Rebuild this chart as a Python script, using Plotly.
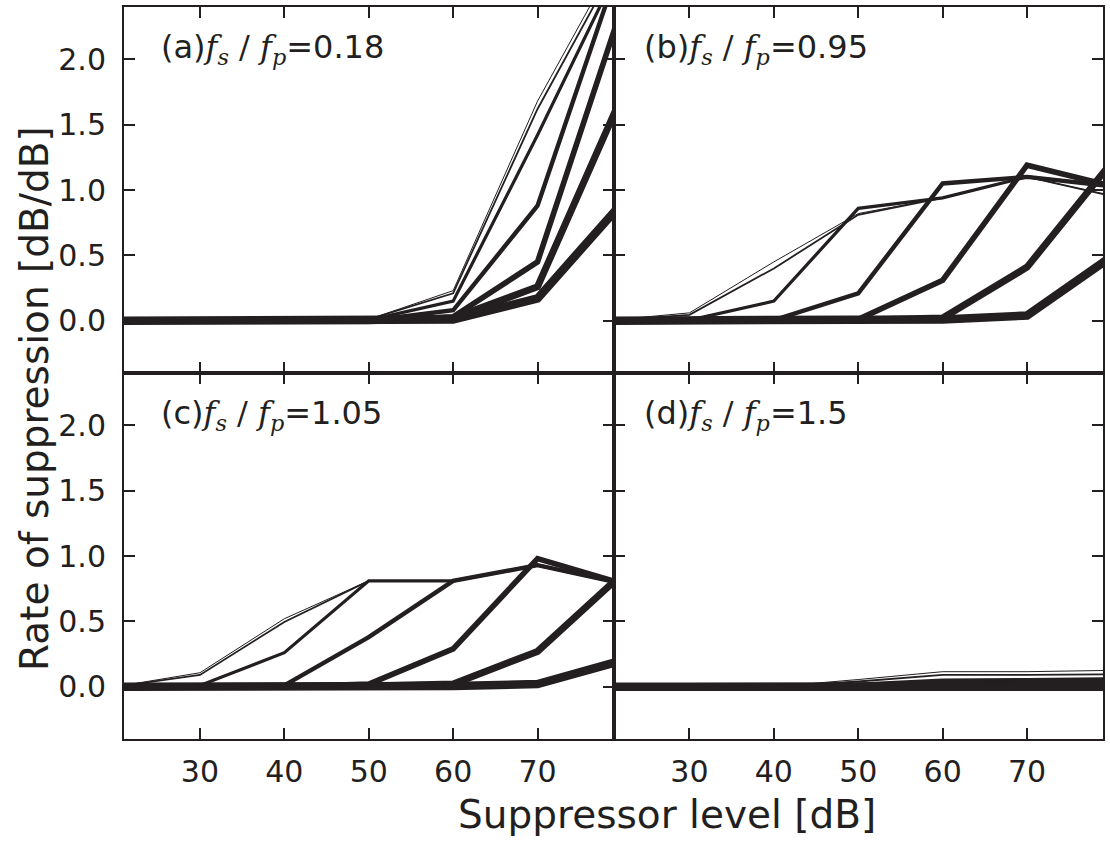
import plotly.graph_objects as go
from plotly.subplots import make_subplots

# Suppressor levels [dB]
levels = [20, 30, 40, 50, 60, 70, 80]

# Panel (a) fs/fp = 0.18 : curves from thinnest to thickest
panel_a = [
    [0, 0, 0, 0.01, 0.23, 1.68, 2.85],
    [0, 0, 0, 0.01, 0.21, 1.62, 2.80],
    [0, 0, 0, 0.005, 0.15, 1.42, 2.75],
    [0, 0, 0, 0.0, 0.08, 0.88, 2.78],
    [0, 0, 0, 0.0, 0.03, 0.45, 2.40],
    [0, 0, 0, 0.0, 0.02, 0.26, 1.72],
    [0, 0, 0, 0.0, 0.01, 0.17, 0.90],
]
# Panel (b) fs/fp = 0.95
panel_b = [
    [0, 0.06, 0.45, 0.82, 0.94, 1.10, 0.955],
    [0, 0.045, 0.40, 0.81, 0.94, 1.10, 0.955],
    [0, 0.005, 0.15, 0.86, 0.94, 1.10, 1.03],
    [0, 0.0, 0.005, 0.21, 1.05, 1.10, 1.03],
    [0, 0.0, 0.0, 0.01, 0.31, 1.19, 1.03],
    [0, 0.0, 0.0, 0.005, 0.02, 0.41, 1.21],
    [0, 0.0, 0.0, 0.0, 0.01, 0.04, 0.49],
]
# Panel (c) fs/fp = 1.05
panel_c = [
    [0, 0.107, 0.52, 0.81, 0.81, 0.93, 0.79],
    [0, 0.09, 0.495, 0.81, 0.81, 0.93, 0.79],
    [0, 0.01, 0.26, 0.81, 0.81, 0.93, 0.79],
    [0, 0.0, 0.01, 0.38, 0.81, 0.93, 0.79],
    [0, 0.0, 0.0, 0.02, 0.29, 0.98, 0.79],
    [0, 0.0, 0.0, 0.005, 0.02, 0.27, 0.86],
    [0, 0.0, 0.0, 0.0, 0.005, 0.02, 0.20],
]
# Panel (d) fs/fp = 1.5
panel_d = [
    [0, 0, 0, 0.055, 0.115, 0.115, 0.125],
    [0, 0, 0, 0.04, 0.09, 0.09, 0.095],
    [0, 0, 0, 0.02, 0.05, 0.055, 0.06],
    [0, 0, 0, 0.01, 0.03, 0.035, 0.04],
    [0, 0, 0, 0.0, 0.01, 0.02, 0.025],
    [0, 0, 0, 0.0, 0.0, 0.005, 0.01],
    [0, 0, 0, 0.0, 0.0, 0.0, 0.0],
]

panel_labels = ["(a)", "(b)", "(c)", "(d)"]
ratios = ["0.18", "0.95", "1.05", "1.5"]
line_widths = [1.0, 1.8, 3.2, 4.4, 5.6, 7.0, 8.5]

x_ticks = [30, 40, 50, 60, 70]
y_ticks = [0.0, 0.5, 1.0, 1.5, 2.0]
y_tick_text = ["0.0", "0.5", "1.0", "1.5", "2.0"]

INK = "#231f20"
FONT = "DejaVu Sans"

fig = make_subplots(rows=2, cols=2, horizontal_spacing=0, vertical_spacing=0,
                    shared_xaxes=True, shared_yaxes=True)

panels = [panel_a, panel_b, panel_c, panel_d]
positions = [(1, 1), (1, 2), (2, 1), (2, 2)]
for data, (r, c) in zip(panels, positions):
    for vals, w in zip(data, line_widths):
        fig.add_trace(go.Scatter(x=levels, y=vals, mode="lines",
                                 line=dict(color=INK, width=w),
                                 showlegend=False, hoverinfo="skip"),
                      row=r, col=c)

axis_common = dict(showline=True, linecolor=INK, linewidth=2, mirror="ticks",
                   ticks="inside", ticklen=11, tickwidth=1.5, tickcolor=INK,
                   showgrid=False, zeroline=False,
                   tickfont=dict(family=FONT, size=30, color=INK))
for r in (1, 2):
    for c in (1, 2):
        fig.update_xaxes(range=[21, 79], tickvals=x_ticks,
                         showticklabels=(r == 2), ticklabelstandoff=5,
                         row=r, col=c, **axis_common)
        fig.update_yaxes(range=[-0.4, 2.4], tickvals=y_ticks, ticktext=y_tick_text,
                         showticklabels=(c == 1), ticklabelstandoff=10,
                         row=r, col=c, **axis_common)

math = ('<span style="font-family:DejaVu Serif">'
        '<i>f</i><sub><i>s</i></sub> / <i>f</i><sub><i>p</i></sub></span>')
x_offsets = [0.0715, 0.059, 0.0715, 0.059]
axis_names = [("x", "y"), ("x2", "y2"), ("x3", "y3"), ("x4", "y4")]
for lab, ratio, xo, (xa, ya) in zip(panel_labels, ratios, x_offsets, axis_names):
    fig.add_annotation(xref=f"{xa} domain", yref=f"{ya} domain", x=xo, y=0.885,
                       xanchor="left", yanchor="middle", showarrow=False,
                       text=f"{lab}{math}={ratio}",
                       font=dict(family=FONT, size=32, color=INK))

fig.add_annotation(xref="paper", yref="paper", x=0.5547, y=-0.1035,
                   xanchor="center", yanchor="middle", showarrow=False,
                   text="Suppressor level [dB]",
                   font=dict(family=FONT, size=39, color=INK))
fig.add_annotation(xref="paper", yref="paper", x=-0.0909, y=0.4646,
                   xanchor="center", yanchor="middle", showarrow=False,
                   textangle=-90, text="Rate of suppression [dB/dB]",
                   font=dict(family=FONT, size=39, color=INK))

fig.update_layout(width=1110, height=841,
                  margin=dict(l=124, r=7, t=5, b=102),
                  paper_bgcolor="white", plot_bgcolor="white")

fig.write_html("out.html")
